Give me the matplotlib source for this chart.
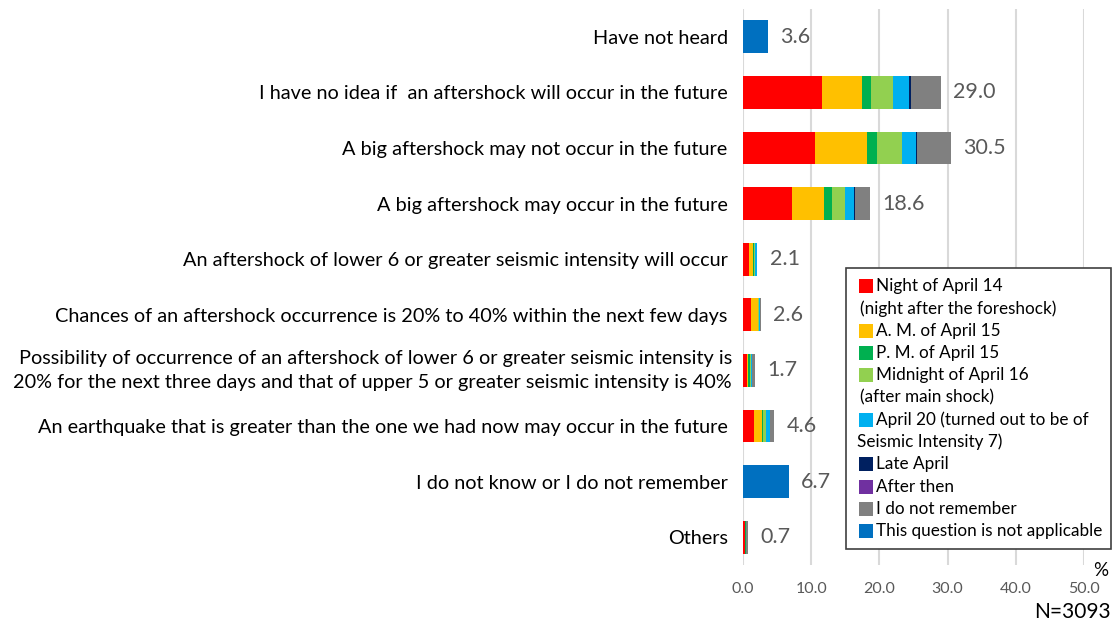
import matplotlib
matplotlib.use("Agg")
import matplotlib.pyplot as plt
from matplotlib.patches import Rectangle
import numpy as np

FONT = ['Lato', 'DejaVu Sans']
plt.rcParams['font.family'] = FONT

# categories, top to bottom
categories = [
    "Have not heard",
    "I have no idea if  an aftershock will occur in the future",
    "A big aftershock may not occur in the future",
    "A big aftershock may occur in the future",
    "An aftershock of lower 6 or greater seismic intensity will occur",
    "Chances of an aftershock occurrence is 20% to 40% within the next few days",
    "Possibility of occurrence of an aftershock of lower 6 or greater seismic intensity is\n"
    "20% for the next three days and that of upper 5 or greater seismic intensity is 40%",
    "An earthquake that is greater than the one we had now may occur in the future",
    "I do not know or I do not remember",
    "Others",
]
totals = [3.6, 29.0, 30.5, 18.6, 2.1, 2.6, 1.7, 4.6, 6.7, 0.7]

series_names = [
    "Night of April 14\n(night after the foreshock)",
    "A. M. of April 15",
    "P. M. of April 15",
    "Midnight of April 16\n(after main shock)",
    "April 20 (turned out to be of\nSeismic Intensity 7)",
    "Late April",
    "After then",
    "I do not remember",
    "This question is not applicable",
]
colors = ["#FF0000", "#FFC000", "#00B050", "#92D050", "#00B0F0",
          "#002060", "#7030A0", "#808080", "#0070C0"]

night_apr14 = [0, 11.6, 10.5, 7.2, 0.9, 1.1, 0.6, 1.6, 0, 0.3]
am_apr15    = [0, 5.9, 7.7, 4.7, 0.5, 1.1, 0.2, 1.2, 0, 0.0]
pm_apr15    = [0, 1.3, 1.4, 1.1, 0.2, 0.05, 0.2, 0.2, 0, 0.1]
mid_apr16   = [0, 3.2, 3.7, 1.9, 0.2, 0.05, 0.2, 0.4, 0, 0.0]
apr20       = [0, 2.4, 2.1, 1.4, 0.2, 0.2, 0.1, 0.6, 0, 0.1]
late_april  = [0, 0.2, 0.1, 0.1, 0, 0, 0, 0, 0, 0]
after_then  = [0, 0.1, 0.0, 0.0, 0, 0, 0, 0, 0, 0]
no_remember = [0, 4.3, 5.0, 2.2, 0.1, 0.1, 0.4, 0.6, 0, 0.2]
not_applic  = [3.6, 0, 0, 0, 0, 0, 0, 0, 6.7, 0]

series = [night_apr14, am_apr15, pm_apr15, mid_apr16, apr20,
          late_april, after_then, no_remember, not_applic]

W, H = 1118, 630
fig = plt.figure(figsize=(W / 100, H / 100), dpi=100)
ax = fig.add_axes([743 / W, 1 - 565 / H, (1084 - 743) / W, (565 - 9) / H])

y = np.arange(len(categories))
left = np.zeros(len(categories))
for vals, c in zip(series, colors):
    vals = np.array(vals)
    ax.barh(y, vals, left=left, height=0.59, color=c, edgecolor='none', zorder=3)
    left += vals

for yi, t in zip(y, totals):
    ax.text(t + 1.8, yi, f"{t:.1f}", va='center', ha='left', fontsize=15.5,
            color='#595959')

ax.set_xlim(0, 50)
ax.set_ylim(len(categories) - 0.5, -0.5)
ax.set_xticks(np.arange(0, 51, 10))
ax.set_xticklabels([f"{v:.1f}" for v in np.arange(0, 51, 10)],
                   fontsize=11.5, color='#595959')
ax.set_yticks(y)
# two-line label is drawn separately so its line gap can be set
tick_text = [c if "\n" not in c else "" for c in categories]
ax.set_yticklabels(tick_text, fontsize=14.35, color='black')
for yi, c in zip(y, categories):
    if "\n" in c:
        ax.annotate(c, xy=(0, yi), xycoords=('axes fraction', 'data'),
                    xytext=(-7.9, 0), textcoords='offset points',
                    ha='right', va='center', fontsize=14.35, linespacing=1.45)
ax.tick_params(axis='both', length=0)
ax.tick_params(axis='y', pad=11)
ax.tick_params(axis='x', pad=12)
ax.grid(axis='x', color='#D9D9D9', linewidth=1.5, zorder=0)
for s in ax.spines.values():
    s.set_visible(False)

fig.text(1101 / W, 1 - 571 / H, "%", ha='center', va='center', fontsize=13.5)
fig.text(1111 / W, 1 - 612 / H, "N=3093", ha='right', va='center', fontsize=15)

# legend box drawn by hand (wrapped labels start under the swatch)
fig.patches.append(Rectangle((846 / W, 1 - 549 / H), (1111 - 846) / W, (549 - 268) / H,
                             transform=fig.transFigure, facecolor='white',
                             edgecolor='#404040', linewidth=1.2, zorder=5))
row = 286
for name, c in zip(series_names, colors):
    lines = name.split("\n")
    fig.patches.append(Rectangle((859 / W, 1 - (row + 7) / H), 14 / W, 14 / H,
                                 transform=fig.transFigure, facecolor=c,
                                 edgecolor='none', zorder=6))
    fig.text(876 / W, 1 - row / H, lines[0], ha='left', va='center',
             fontsize=12.3, zorder=7)
    row += 22.3
    for extra in lines[1:]:
        xs = 860 if extra.startswith("(") else 857
        fig.text(xs / W, 1 - row / H, extra, ha='left', va='center',
                 fontsize=12.3, zorder=7)
        row += 22.3

fig.savefig("out.png", dpi=100)
